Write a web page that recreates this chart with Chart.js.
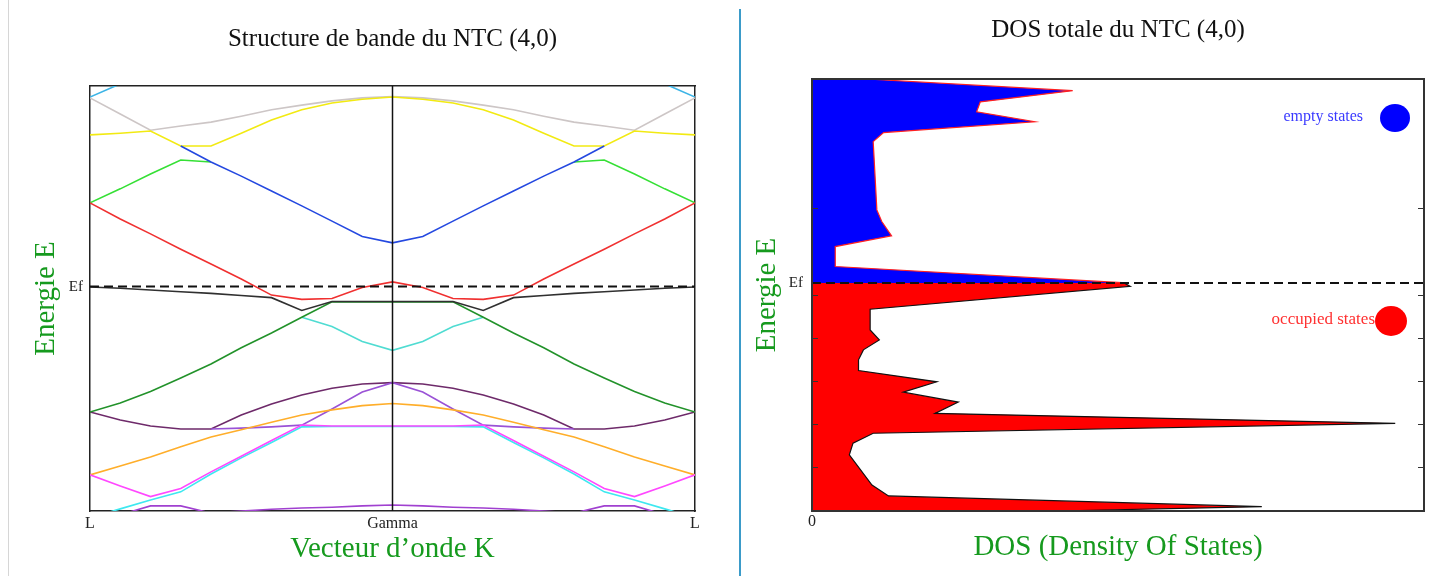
<!DOCTYPE html>
<html>
<head>
<meta charset="utf-8">
<script src="https://cdn.jsdelivr.net/npm/chart.js"></script>
<style>
  body { margin: 0; background: #fff; }
  #wrap { position: relative; width: 1434px; height: 576px; overflow: hidden; }
  .edge { position: absolute; left: 8px; top: 0; width: 1px; height: 576px; background: #d6d6d6; }
  .divider { position: absolute; left: 739px; top: 9px; width: 2px; height: 567px; background: #3b9bc9; }
  canvas { position: absolute; top: 0; }
</style>
</head>
<body>
<div id="wrap">
  <div class="edge"></div>
  <canvas id="bands" width="740" height="576" style="left:0"></canvas>
  <div class="divider"></div>
  <canvas id="dos" width="692" height="576" style="left:742px"></canvas>
</div>
<script>
// wave vector from L (-1) through Gamma (0) to L (1)
const K = [-1, -0.9, -0.8, -0.7, -0.6, -0.5, -0.4, -0.3, -0.2, -0.1, 0, 0.1, 0.2, 0.3, 0.4, 0.5, 0.6, 0.7, 0.8, 0.9, 1];
const K_TICKS = [-1, 0, 1];
const K_LABELS = ['L', 'Gamma', 'L'];
const EF = -4.72; // Fermi level (eV)

// band energies (eV) at each K point
const bandCyanTop = [-0.26, 0.05, 0.35, null, null, null, null, null, null, null, null, null, null, null, null, null, null, null, 0.35, 0.05, -0.26];
const bandGray = [-0.28, -0.66, -1.04, -0.94, -0.85, -0.71, -0.56, -0.45, -0.35, -0.28, -0.25, -0.28, -0.35, -0.45, -0.56, -0.71, -0.85, -0.94, -1.04, -0.66, -0.28];
const bandYellow = [-1.15, -1.11, -1.06, -1.41, -1.41, -1.11, -0.80, -0.56, -0.40, -0.31, -0.26, -0.31, -0.40, -0.56, -0.80, -1.11, -1.41, -1.41, -1.06, -1.11, -1.15];
const bandBlue = [null, null, null, -1.41, -1.79, -2.12, -2.47, -2.82, -3.18, -3.54, -3.69, -3.54, -3.18, -2.82, -2.47, -2.12, -1.79, -1.41, null, null, null];
const bandLightGreen = [-2.75, -2.42, -2.07, -1.74, -1.79, null, null, null, null, null, null, null, null, null, null, null, -1.79, -1.74, -2.07, -2.42, -2.75];
const bandRed = [-2.75, -3.13, -3.48, -3.84, -4.19, -4.54, -4.92, -5.02, -5.00, -4.74, -4.61, -4.74, -5.00, -5.02, -4.92, -4.54, -4.19, -3.84, -3.48, -3.13, -2.75];
const bandBlack = [-4.73, -4.76, -4.80, -4.84, -4.88, -4.93, -4.98, -5.28, -5.07, -5.07, -5.07, -5.07, -5.07, -5.28, -4.98, -4.93, -4.88, -4.84, -4.80, -4.76, -4.73];
const bandTurquoise = [null, null, null, null, null, null, null, -5.44, -5.66, -6.01, -6.22, -6.01, -5.66, -5.44, null, null, null, null, null, null, null];
const bandDarkGreen = [-7.67, -7.46, -7.19, -6.87, -6.54, -6.16, -5.81, -5.44, -5.08, -5.08, -5.08, -5.08, -5.08, -5.44, -5.81, -6.16, -6.54, -6.87, -7.19, -7.46, -7.67];
const bandDarkPurple = [-7.67, -7.86, -8.00, -8.07, -8.07, -7.74, -7.48, -7.27, -7.11, -7.01, -6.98, -7.01, -7.11, -7.27, -7.48, -7.74, -8.07, -8.07, -8.00, -7.86, -7.67];
const bandViolet = [null, null, null, null, -8.07, -8.05, -8.02, -7.98, -7.60, -7.20, -6.98, -7.20, -7.60, -7.98, -8.02, -8.05, -8.07, null, null, null, null];
const bandMagenta = [-9.15, -9.41, -9.66, -9.47, -9.08, -8.71, -8.34, -7.98, -8.00, -8.00, -8.00, -8.00, -8.00, -7.98, -8.34, -8.71, -9.08, -9.47, -9.66, -9.41, -9.15];
const bandCyanLow = [-10.16, -9.95, -9.74, -9.55, -9.13, -8.75, -8.39, -8.02, -8.01, -8.01, -8.01, -8.01, -8.01, -8.02, -8.39, -8.75, -9.13, -9.55, -9.74, -9.95, -10.16];
const bandOrange = [-9.15, -8.94, -8.73, -8.49, -8.26, -8.09, -7.91, -7.74, -7.62, -7.52, -7.47, -7.52, -7.62, -7.74, -7.91, -8.09, -8.26, -8.49, -8.73, -8.94, -9.15];
const bandVioletLow = [null, -10.09, -9.88, -9.88, -10.05, -10.00, -9.96, -9.93, -9.91, -9.88, -9.86, -9.88, -9.91, -9.93, -9.96, -10.00, -10.05, -9.88, -9.88, -10.09, null];

// total DOS: energies (eV) and values, empty states above Ef, occupied below
const DOS_EMPTY_E = [0, -0.27, -0.53, -0.76, -0.99, -1.24, -1.45, -3.03, -3.30, -3.63, -3.88, -4.34, -4.72];
const DOS_EMPTY = [0.89, 4.26, 2.75, 2.69, 3.64, 1.17, 1.00, 1.06, 1.14, 1.30, 0.38, 0.38, 5.14];
const DOS_FULL_E = [-4.72, -4.80, -5.33, -5.81, -6.04, -6.27, -6.50, -6.75, -7.01, -7.25, -7.48, -7.74, -7.97, -8.20, -8.43, -8.70, -9.40, -9.65, -9.90, -10];
const DOS_FULL = [5.10, 5.20, 0.95, 0.95, 1.10, 0.84, 0.76, 0.76, 2.04, 1.49, 2.39, 2.01, 9.53, 1.00, 0.67, 0.61, 0.98, 1.25, 7.35, 4.00];
const DOS_TICKS = [-9, -8, -7, -6, -5, -3];

Chart.defaults.font.family = '"Liberation Serif", "DejaVu Serif", serif';
Chart.defaults.color = '#222';

const GREEN = '#169a1e';

const bands = [
  { name: 'black', data: bandBlack, color: '#303030' },
  { name: 'red', data: bandRed, color: '#f03030' },
  { name: 'dark green', data: bandDarkGreen, color: '#22922a' },
  { name: 'turquoise', data: bandTurquoise, color: '#50dcd2' },
  { name: 'blue', data: bandBlue, color: '#2448e0' },
  { name: 'light green', data: bandLightGreen, color: '#35e035' },
  { name: 'yellow', data: bandYellow, color: '#f2ea12' },
  { name: 'gray', data: bandGray, color: '#cdc6c6' },
  { name: 'cyan top', data: bandCyanTop, color: '#3cb4e6' },
  { name: 'magenta', data: bandMagenta, color: '#ff48ff' },
  { name: 'orange', data: bandOrange, color: '#ffae2a' },
  { name: 'violet', data: bandViolet, color: '#9a52d6' },
  { name: 'dark purple', data: bandDarkPurple, color: '#6e2a6a' },
  { name: 'cyan low', data: bandCyanLow, color: '#3ee8f0' },
  { name: 'violet low', data: bandVioletLow, color: '#a040d0' }
];

const bandSets = [
  {
    label: 'Ef',
    data: [{ x: -1, y: EF }, { x: 1, y: EF }],
    borderColor: '#111', borderWidth: 2, borderDash: [9, 5]
  },
  {
    label: 'Gamma',
    data: [{ x: 0, y: -10 }, { x: 0, y: 0 }],
    borderColor: '#111', borderWidth: 1.5
  }
].concat(bands.map(b => ({
  label: b.name,
  data: K.map((k, i) => ({ x: k, y: b.data[i] })),
  borderColor: b.color,
  borderWidth: 1.6
})));

new Chart(document.getElementById('bands'), {
  type: 'line',
  data: { datasets: bandSets },
  options: {
    responsive: false,
    animation: false,
    devicePixelRatio: 1,
    layout: { padding: { left: 0, right: 45, top: 0, bottom: 0 } },
    elements: { point: { radius: 0 }, line: { tension: 0 } },
    datasets: { line: { clip: 0, fill: false } },
    plugins: {
      legend: { display: false },
      tooltip: { enabled: false },
      title: {
        display: true, fullSize: false,
        text: 'Structure de bande du NTC (4,0)',
        color: '#111',
        font: { size: 25, weight: 'normal' },
        padding: { top: 24, bottom: 32 }
      }
    },
    scales: {
      x: {
        type: 'linear', min: -1, max: 1,
        afterBuildTicks: s => { s.ticks = K_TICKS.map(v => ({ value: v })); },
        afterFit: s => { s.height = 65; },
        ticks: { callback: (v, i) => K_LABELS[i], autoSkip: false, maxRotation: 0, padding: 3, font: { size: 16 }, color: '#222' },
        grid: { display: false, drawTicks: false },
        border: { color: '#222', width: 1.5 },
        title: { display: true, text: 'Vecteur d\u2019onde K', color: GREEN, font: { size: 29 }, padding: { top: 0, bottom: 9.6 } }
      },
      y: {
        type: 'linear', min: -10, max: 0,
        afterBuildTicks: s => { s.ticks = [{ value: EF }]; },
        afterFit: s => { s.width = 90; },
        ticks: { callback: () => 'Ef', padding: 7, font: { size: 15 }, color: '#222' },
        grid: { display: false, drawTicks: false },
        border: { color: '#222', width: 1.5 },
        title: { display: true, text: 'Energie E', color: GREEN, font: { size: 29 }, padding: { top: 29, bottom: 0 } }
      },
      xTop: {
        type: 'linear', position: 'top', min: -1, max: 1, display: true,
        ticks: { display: false }, grid: { display: false, drawTicks: false },
        border: { color: '#222', width: 1.5 },
        afterFit: s => { s.height = 0; }
      },
      yRight: {
        type: 'linear', position: 'right', min: -10, max: 0, display: true,
        ticks: { display: false }, grid: { display: false, drawTicks: false },
        border: { color: '#222', width: 1.5 },
        afterFit: s => { s.width = 0; }
      }
    }
  }
});

// legend drawn as text + large dot, inside the DOS plot area
const stateLegend = {
  id: 'stateLegend',
  afterDraw(chart) {
    const { ctx, chartArea: a } = chart;
    const items = [
      { ds: 1, text: '#3a3aff', dy: 38, tx: 61, cx: 29, rx: 15, ry: 14, size: 16 },
      { ds: 2, text: '#ff3030', dy: 241, tx: 49, cx: 33, rx: 16, ry: 15, size: 17 }
    ];
    ctx.save();
    items.forEach(it => {
      const d = chart.data.datasets[it.ds];
      ctx.font = it.size + 'px "Liberation Serif", serif';
      ctx.fillStyle = it.text;
      ctx.textAlign = 'right';
      ctx.textBaseline = 'middle';
      ctx.fillText(d.label, a.right - it.tx, a.top + it.dy);
      ctx.beginPath();
      ctx.ellipse(a.right - it.cx, a.top + it.dy + 1, it.rx, it.ry, 0, 0, Math.PI * 2);
      ctx.fillStyle = d.backgroundColor;
      ctx.fill();
    });
    ctx.restore();
  }
};

const tickColor = c => (c.tick && c.tick.value === EF) ? 'rgba(0,0,0,0)' : '#333';

new Chart(document.getElementById('dos'), {
  type: 'line',
  data: {
    datasets: [
      {
        label: 'Ef',
        data: [{ x: 0, y: EF }, { x: 10, y: EF }],
        borderColor: '#111', borderWidth: 2, borderDash: [9, 5], fill: false
      },
      {
        label: 'empty states',
        data: DOS_EMPTY_E.map((e, i) => ({ x: DOS_EMPTY[i], y: e })),
        borderColor: '#ff2020', borderWidth: 1.2,
        backgroundColor: '#0000ff', fill: 'origin'
      },
      {
        label: 'occupied states',
        data: DOS_FULL_E.map((e, i) => ({ x: DOS_FULL[i], y: e })),
        borderColor: '#111', borderWidth: 1.2,
        backgroundColor: '#ff0000', fill: 'origin'
      }
    ]
  },
  options: {
    indexAxis: 'y',
    responsive: false,
    animation: false,
    devicePixelRatio: 1,
    layout: { padding: { left: 0, right: 10, top: 0, bottom: 0 } },
    elements: { point: { radius: 0 }, line: { tension: 0 } },
    plugins: {
      legend: { display: false },
      tooltip: { enabled: false },
      title: {
        display: true, fullSize: false,
        text: 'DOS totale du NTC (4,0)',
        color: '#111',
        font: { size: 25, weight: 'normal' },
        padding: { top: 15.5, bottom: 33.5 }
      }
    },
    scales: {
      x: {
        type: 'linear', min: 0, max: 10,
        afterBuildTicks: s => { s.ticks = [{ value: 0 }]; },
        afterFit: s => { s.height = 65; },
        ticks: { callback: () => '0', padding: 1, font: { size: 16 }, color: '#222' },
        grid: { display: false, drawTicks: false },
        border: { color: '#333', width: 2, z: 1 },
        title: { display: true, text: 'DOS (Density Of States)', color: GREEN, font: { size: 29 }, padding: { top: 0, bottom: 11 } }
      },
      y: {
        type: 'linear', min: -10, max: 0,
        afterBuildTicks: s => { s.ticks = DOS_TICKS.concat([EF]).map(v => ({ value: v })); },
        afterFit: s => { s.width = 70; },
        ticks: { callback: v => v === EF ? 'Ef' : '', autoSkip: false, padding: 15, font: { size: 15 }, color: '#222' },
        grid: { drawOnChartArea: false, tickLength: -6, color: tickColor, z: 1 },
        border: { color: '#333', width: 2, z: 1 },
        title: { display: true, text: 'Energie E', color: GREEN, font: { size: 29 }, padding: { top: 7.5, bottom: 0 } }
      },
      xTop: {
        type: 'linear', position: 'top', min: 0, max: 10, display: true,
        ticks: { display: false }, grid: { display: false, drawTicks: false },
        border: { color: '#333', width: 2, z: 1 },
        afterFit: s => { s.height = 0; }
      },
      yRight: {
        type: 'linear', position: 'right', min: -10, max: 0, display: true,
        afterBuildTicks: s => { s.ticks = DOS_TICKS.map(v => ({ value: v })); },
        ticks: { display: false },
        grid: { drawOnChartArea: false, tickLength: -6, color: '#333', z: 1 },
        border: { color: '#333', width: 2, z: 1 },
        afterFit: s => { s.width = 0; }
      }
    }
  },
  plugins: [stateLegend]
});
</script>
</body>
</html>
